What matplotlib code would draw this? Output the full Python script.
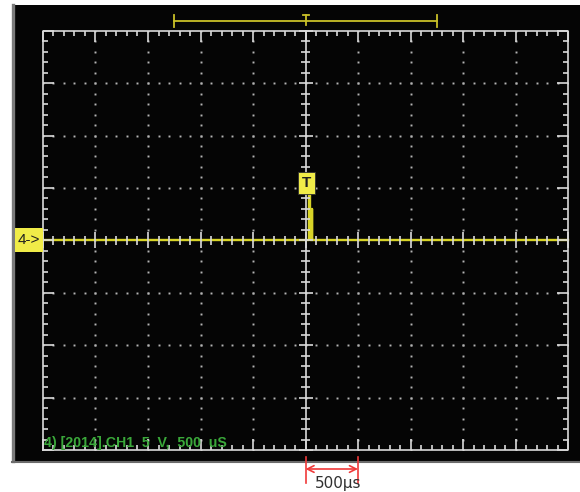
import numpy as np
import matplotlib.pyplot as plt
from matplotlib.patches import Rectangle
from matplotlib.transforms import blended_transform_factory


# ======================
# scope settings / data
# ======================
time_per_div = 500      # us
volt_per_div = 5        # V
n_div_x = 10
n_div_y = 8

# captured trace (us, V)
trace_t = [-2500, 36, 36, 40, 40, 59, 59, 62, 62, 2500]
trace_v = [0, 0, 4.6, 4.6, 0, 0, 3.0, 3.0, 0, 0]

trig_time = 8           # us, "T" flag position
trig_level = 5.45       # V
window = [-1250, 1250]  # memory window bracket (us)

status_text = "4) [2014].CH1  5  V,  500  uS"
scale_label = "500µs"


# ======================
# colours
# ======================
grat_col = "#dadada"
trace_col = "#d8d428"
flag_col = "#f0ec48"
green = "#3aa83a"
red = "#f03a3a"


# ======================
# figure
# ======================
fig = plt.figure(figsize=(5.8, 4.92), dpi=100)
fig.patch.set_facecolor("white")

# black screen + grey frame
fig.patches.append(Rectangle((12 / 580, 31 / 492), 1, 456 / 492,
                             transform=fig.transFigure,
                             facecolor="#050505", edgecolor="none", zorder=-10))
fig.add_artist(plt.Line2D([12.5 / 580, 12.5 / 580], [31 / 492, 487 / 492],
                          transform=fig.transFigure, color="#7c7c7c", lw=2.4,
                          zorder=-5))
fig.add_artist(plt.Line2D([12 / 580, 1], [30.5 / 492, 30.5 / 492],
                          transform=fig.transFigure, color="#6c6c6c", lw=1.5,
                          zorder=-5))

ax = fig.add_axes([43 / 580, 42 / 492, 525 / 580, 419.3 / 492])
ax.set_facecolor("none")
for s in ax.spines.values():
    s.set_visible(False)
ax.set_xticks([])
ax.set_yticks([])

xmax = time_per_div * n_div_x / 2
ymax = volt_per_div * n_div_y / 2
ax.set_xlim(-xmax, xmax)
ax.set_ylim(-ymax, ymax)

px_x = time_per_div / 52.5   # us per pixel
px_y = volt_per_div / 52.4   # V per pixel


# ======================
# graticule
# ======================
minor_x = np.arange(-xmax, xmax + 1, time_per_div / 5)
minor_y = np.arange(-ymax, ymax + 0.01, volt_per_div / 5)
major_x = np.arange(-xmax, xmax + 1, time_per_div)
major_y = np.arange(-ymax, ymax + 0.01, volt_per_div)

kw = dict(color=grat_col, lw=1.2, clip_on=False, zorder=2)

# border
ax.plot([-xmax, xmax, xmax, -xmax, -xmax], [-ymax, -ymax, ymax, ymax, -ymax], **kw)
# centre lines
ax.plot([0, 0], [-ymax, ymax], **kw)
ax.plot([-xmax, xmax], [0, 0], color=grat_col, lw=1.2, zorder=1)

# border ticks
is_maj_x = np.isclose(minor_x % time_per_div, 0)
is_maj_y = np.isclose(minor_y % volt_per_div, 0)
len_x = np.where(is_maj_x, 11, 5)
len_y = np.where(is_maj_y, 11, 5)
ax.vlines(minor_x, ymax - len_x * px_y, ymax, **kw)
ax.vlines(minor_x, -ymax, -ymax + len_x * px_y, **kw)
ax.hlines(minor_y, -xmax, -xmax + len_y * px_x, **kw)
ax.hlines(minor_y, xmax - len_y * px_x, xmax, **kw)

# centre-line crosses
cx = np.where(is_maj_x, 8, 4.5)
cy = np.where(is_maj_y, 7, 4.5)
ax.vlines(minor_x, -cx * px_y, cx * px_y, **kw)
ax.hlines(minor_y, -cy * px_x, cy * px_x, **kw)

# dotted grid
inner_x = [x for x in major_x if abs(x) not in (0, xmax)]
inner_y = [y for y in major_y if abs(y) not in (0, ymax)]
for xg in inner_x:
    ax.plot(np.full(len(minor_y), xg), minor_y, "s", ms=1.4,
            color="#b4b4b4", mew=0, zorder=1)
for yg in inner_y:
    ax.plot(minor_x, np.full(len(minor_x), yg), "s", ms=1.4,
            color="#b4b4b4", mew=0, zorder=1)


# ======================
# trace + markers
# ======================
ax.plot(trace_t, trace_v, color=trace_col, lw=1.7, zorder=1.5, clip_on=False)

ax.text(trig_time, trig_level, "T", ha="center", va="center",
        fontsize=11, fontweight="bold", color="#202020", zorder=5,
        family="Liberation Sans",
        bbox=dict(boxstyle="square,pad=0.25", facecolor=flag_col,
                  edgecolor="#303030", lw=0.6))

# channel flag on the left
ax.add_patch(Rectangle((-0.0535, 0.4729), 0.0535, 0.0558,
                       transform=ax.transAxes, facecolor=flag_col,
                       edgecolor="none", clip_on=False, zorder=4))
ax.text(-0.0268, 0.5008, "4->", transform=ax.transAxes, ha="center",
        va="center", fontsize=11, color="#202020", zorder=5,
        family="Liberation Sans")

# window bracket at the top
tb = blended_transform_factory(ax.transData, ax.transAxes)
bkw = dict(color="#c8c028", lw=1.3, transform=tb, clip_on=False)
ax.plot(window, [1.0231, 1.0231], **bkw)
for w in window:
    ax.plot([w, w], [1.009, 1.037], **bkw)
ax.plot([0, 0], [1.037, 1.013], **bkw)
ax.plot([-3 * px_x, 3 * px_x], [1.037, 1.037], **bkw)

# status line
ax.text(0.002, 0.007, status_text, transform=ax.transAxes, ha="left",
        va="baseline", fontsize=10.2, fontweight="bold", color=green,
        family="Liberation Sans", zorder=5)


# ======================
# scale marker below screen
# ======================
rkw = dict(color=red, lw=1.2, transform=tb, clip_on=False)
for x in (0, time_per_div):
    ax.plot([x, x], [-0.0167, -0.0787], **rkw)
ax.annotate("", xy=(time_per_div, -0.0453), xytext=(0, -0.0453),
            xycoords=tb, textcoords=tb,
            arrowprops=dict(arrowstyle="<->", color=red, lw=1.2,
                            shrinkA=0, shrinkB=0, mutation_scale=12))
ax.text(time_per_div * 0.62, -0.0905, scale_label, transform=tb,
        ha="center", va="baseline", fontsize=11, color="#303030")

fig.savefig("out.png", dpi=100)
